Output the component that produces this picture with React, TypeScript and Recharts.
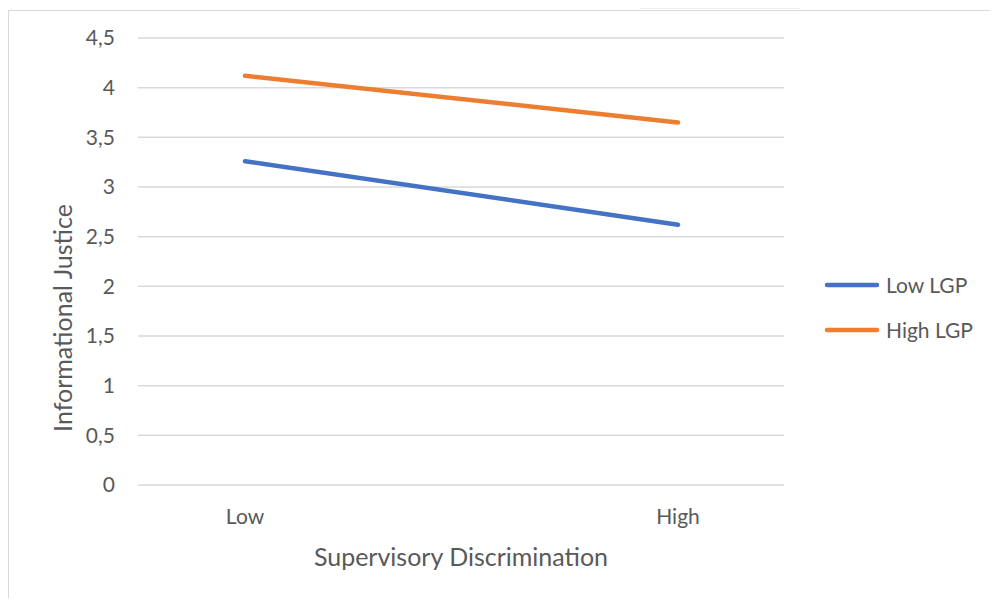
import React from "react";
import {
  LineChart,
  Line,
  XAxis,
  YAxis,
  CartesianGrid,
  Label,
} from "recharts";

const categories = ["Low", "High"];
const lowLGP = [3.26, 2.62];
const highLGP = [4.12, 3.65];
const yTicks = [0, 0.5, 1, 1.5, 2, 2.5, 3, 3.5, 4, 4.5];

const BLUE = "#4472C4";
const ORANGE = "#ED7D31";
const TEXT = "#595959";
const FONT = "Lato, 'Open Sans', sans-serif";

const data = categories.map((name, i) => ({
  name,
  low: lowLGP[i],
  high: highLGP[i],
}));

const series = [
  { key: "low", label: "Low LGP", color: BLUE },
  { key: "high", label: "High LGP", color: ORANGE },
];

const fmt = (v: number) => String(v).replace(".", ",");

// legend sits to the right of the plot, outside the chart's layout box
function LegendBox() {
  return (
    <div
      style={{
        position: "absolute",
        left: 824,
        top: 262,
        fontFamily: FONT,
        fontSize: 21,
        color: TEXT,
      }}
    >
      {series.map((s) => (
        <div
          key={s.key}
          style={{ display: "flex", alignItems: "center", height: 45 }}
        >
          <svg width={58} height={10}>
            <line
              x1={3}
              y1={5}
              x2={53}
              y2={5}
              stroke={s.color}
              strokeWidth={4.5}
              strokeLinecap="round"
            />
          </svg>
          <span style={{ marginLeft: 4 }}>{s.label}</span>
        </div>
      ))}
    </div>
  );
}

export default function App() {
  return (
    <div
      style={{
        position: "relative",
        width: 998,
        height: 606,
        margin: -8,
        overflow: "hidden",
        background: "#fff",
      }}
    >
      {/* chart frame, runs off the right and bottom edges */}
      <div
        style={{
          position: "absolute",
          left: 8,
          top: 10,
          width: 1010,
          height: 620,
          border: "1px solid #d9d9d9",
        }}
      />
      <div
        style={{
          position: "absolute",
          left: 640,
          top: 0,
          width: 166,
          height: 9,
          background: "#efefef",
          clipPath: "polygon(4% 0, 100% 0, 96% 100%, 0 100%)",
        }}
      />
      <LineChart
        width={998}
        height={606}
        data={data}
        margin={{ top: 38, right: 214, bottom: 0, left: 78 }}
        style={{ position: "absolute", left: 0, top: 0 }}
      >
        <CartesianGrid vertical={false} stroke="#d9d9d9" strokeWidth={1.5} />
        <XAxis
          dataKey="name"
          height={121}
          axisLine={false}
          tickLine={false}
          tickSize={0}
          tickMargin={24}
          padding={{ left: 107, right: 106 }}
          tick={{ fill: TEXT, fontSize: 21, fontFamily: FONT }}
        >
          <Label
            value="Supervisory Discrimination"
            position="insideBottom"
            offset={40}
            fill={TEXT}
            fontSize={25}
            fontFamily={FONT}
          />
        </XAxis>
        <YAxis
          width={60}
          domain={[0, 4.5]}
          ticks={yTicks}
          axisLine={false}
          tickLine={false}
          tickSize={0}
          tickMargin={23}
          tickFormatter={fmt}
          tick={{ fill: TEXT, fontSize: 21, fontFamily: FONT }}
        >
          <Label
            content={() => (
              <text
                x={62}
                y={318}
                transform="rotate(-90 62 318)"
                textAnchor="middle"
                dominantBaseline="central"
                fill={TEXT}
                fontSize={25}
                fontFamily={FONT}
              >
                Informational Justice
              </text>
            )}
          />
        </YAxis>
        {series.map((s) => (
          <Line
            key={s.key}
            dataKey={s.key}
            name={s.label}
            stroke={s.color}
            strokeWidth={4.5}
            strokeLinecap="round"
            dot={false}
            isAnimationActive={false}
          />
        ))}
      </LineChart>
      <LegendBox />
    </div>
  );
}
